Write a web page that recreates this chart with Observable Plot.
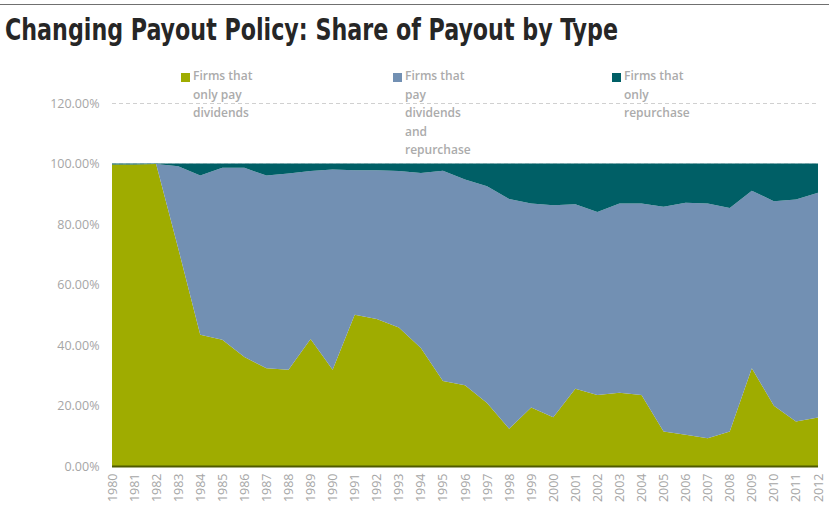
<!DOCTYPE html>
<html>
<head>
<meta charset="utf-8">
<script src="https://cdn.jsdelivr.net/npm/d3@7"></script>
<script src="https://cdn.jsdelivr.net/npm/@observablehq/plot@0.6"></script>
<style>
  html, body { margin: 0; padding: 0; background: #fff; }
  #wrap { position: relative; width: 829px; height: 513px; overflow: hidden; }
  #rule { position: absolute; left: 0; top: 4px; width: 829px; height: 0; border-top: 1.5px solid #707070; }
  #title { position: absolute; left: 5px; top: 9px; font-family: "Liberation Sans Narrow", "DejaVu Sans Condensed", "Liberation Sans", sans-serif; font-weight: bold; font-size: 31px; color: #262626; white-space: nowrap; transform-origin: 0 0; line-height: 40px; }
  #chart { position: absolute; left: 0; top: 55px; }
  .leg { position: absolute; top: 67px; font-family: "Open Sans", sans-serif; font-weight: 600; font-size: 12px; line-height: 18.5px; color: #ababab; }
  .sw { position: absolute; width: 9px; height: 9px; top: 73px; }
</style>
</head>
<body>
<div id="wrap">
  <div id="rule"></div>
  <div id="title">Changing Payout Policy: Share of Payout by Type</div>
  <div id="chart"></div>
</div>
<script>
const years = d3.range(1980, 2013);
const seriesNames = ["Firms that only pay dividends", "Firms that pay dividends and repurchase", "Firms that only repurchase"];
const legendLines = [["Firms that", "only pay", "dividends"], ["Firms that", "pay", "dividends", "and", "repurchase"], ["Firms that", "only", "repurchase"]];
const colors = ["#9fac00", "#7290b3", "#005f66"];
const yTicks = [0, 20, 40, 60, 80, 100, 120];

const divOnly = [99.7, 99.7, 99.8, 72, 43.4, 41.7, 36, 32.3, 31.8, 42, 31.8, 50, 48.6, 45.8, 39, 28.1, 26.7, 20.8, 12.3, 19.3, 16.1, 25.5, 23.5, 24.2, 23.5, 11.4, 10.3, 9.2, 11.4, 32.3, 19.9, 14.7, 16];
const both    = [0, 0, 0, 27.1, 52.6, 56.9, 62.6, 63.7, 64.9, 55.5, 66.2, 47.8, 49.2, 51.7, 57.9, 69.5, 68.0, 71.7, 76.0, 67.5, 70.1, 61.0, 60.5, 62.6, 63.3, 74.3, 76.7, 77.6, 73.9, 58.7, 67.6, 73.4, 74.3];
const repOnly = [0.3, 0.3, 0.2, 0.9, 4.0, 1.4, 1.4, 4.0, 3.3, 2.5, 2.0, 2.2, 2.2, 2.5, 3.1, 2.4, 5.3, 7.5, 11.7, 13.2, 13.8, 13.5, 16.0, 13.2, 13.2, 14.3, 13.0, 13.2, 14.7, 9.0, 12.5, 11.9, 9.7];

const seriesValues = [divOnly, both, repOnly];
const data = [];
seriesNames.forEach((s, k) => years.forEach((y, i) => data.push({year: y, series: s, value: seriesValues[k][i]})));

const chart = Plot.plot({
  width: 829,
  height: 458,
  marginLeft: 112,
  marginRight: 11,
  marginTop: 48,
  marginBottom: 47,
  style: {fontFamily: "'Open Sans', sans-serif", background: "transparent"},
  x: {domain: [1980, 2012]},
  y: {domain: [0, 120]},
  color: {domain: seriesNames, range: colors},
  marks: [
    Plot.gridY(yTicks, {stroke: "#d0d0d0", strokeOpacity: 1, strokeDasharray: "4,3"}),
    Plot.areaY(data, {x: "year", y: "value", fill: "series", order: seriesNames}),
    Plot.ruleY([0], {stroke: "#4f5a00", strokeWidth: 2}),
    Plot.axisY(yTicks, {tickSize: 0, tickPadding: 13, tickFormat: d => d.toFixed(2) + "%", fill: "#a6a6a6", fontSize: 12.5, label: null}),
    Plot.axisX(years, {tickSize: 0, tickPadding: 7, tickRotate: -90, tickFormat: d => String(d), fill: "#a6a6a6", fontSize: 12.5, label: null})
  ]
});
document.getElementById("chart").appendChild(chart);

const wrap = document.getElementById("wrap");
const legX = [181, 393, 612];
seriesNames.forEach((s, k) => {
  const sw = document.createElement("div");
  sw.className = "sw";
  sw.style.left = legX[k] + "px";
  sw.style.background = colors[k];
  wrap.appendChild(sw);
  const t = document.createElement("div");
  t.className = "leg";
  t.style.left = (legX[k] + 12) + "px";
  t.innerHTML = legendLines[k].join("<br>");
  wrap.appendChild(t);
});

const title = document.getElementById("title");
const w = title.getBoundingClientRect().width;
title.style.transform = `scaleX(${613 / w})`;
</script>
</body>
</html>
